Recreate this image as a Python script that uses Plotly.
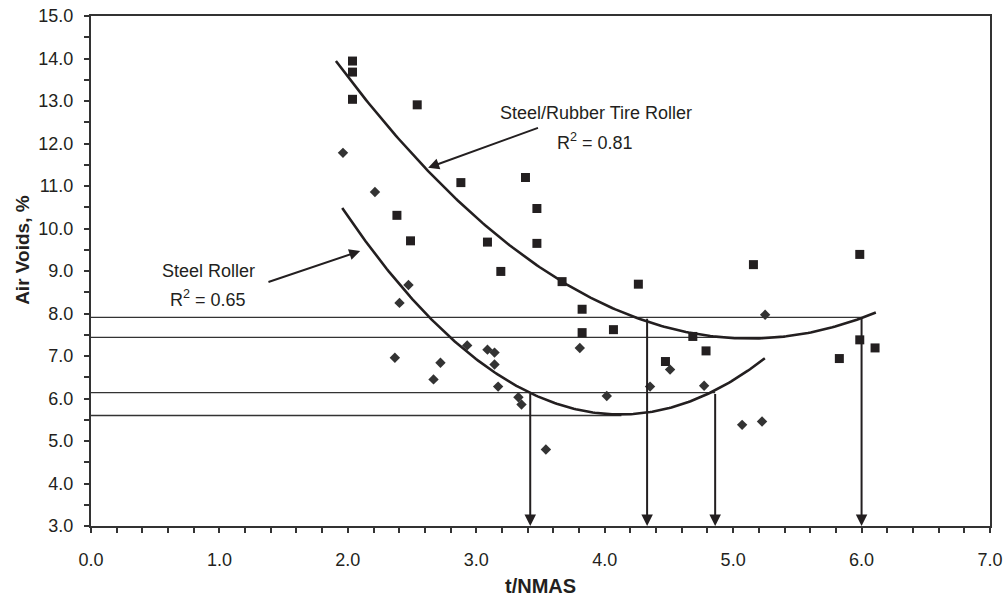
import numpy as np
import plotly.graph_objects as go

# ---- data ----
sq_x = [2.036, 2.036, 2.036, 2.540, 2.880, 3.383, 3.472, 2.382, 2.488, 3.087, 3.472, 3.191, 3.668,
        3.824, 3.824, 4.262, 5.158, 5.986, 4.068, 4.686, 4.789, 4.473, 5.986, 6.105, 5.827]
sq_y = [13.94, 13.68, 13.04, 12.91, 11.08, 11.20, 10.47, 10.31, 9.71, 9.68, 9.65, 8.99, 8.75,
        8.10, 7.55, 8.69, 9.15, 9.39, 7.62, 7.46, 7.12, 6.87, 7.38, 7.19, 6.94]

dm_x = [1.962, 2.211, 2.472, 2.402, 2.366, 2.721, 2.667, 2.929, 3.087, 3.142, 3.142, 3.170,
        3.328, 3.352, 3.542, 3.806, 5.249, 4.509, 4.353, 4.774, 4.016, 5.070, 5.225]
dm_y = [11.78, 10.86, 8.67, 8.25, 6.96, 6.84, 6.45, 7.25, 7.15, 7.08, 6.80, 6.28,
        6.03, 5.86, 4.80, 7.19, 7.97, 6.68, 6.28, 6.30, 6.06, 5.38, 5.46]

# 2nd-order trendline coefficients (a, b, c) as drawn in the reference, and their extents
sq_trend_coef = [0.630, -6.459, 23.966]
dm_trend_coef = [1.039, -8.559, 23.250]
sq_trend_range = [1.907, 6.111]
dm_trend_range = [1.956, 5.247]

# reference lines
hline_y = [7.91, 7.44, 6.14, 5.60]
hline_end = [6.00, 5.40, 4.86, 4.13]
arrow_x = [3.42, 4.33, 4.86, 6.00]
arrow_top = [6.14, 7.91, 6.14, 7.91]

x_ticks = [0.0, 1.0, 2.0, 3.0, 4.0, 5.0, 6.0, 7.0]
y_ticks = [3.0, 4.0, 5.0, 6.0, 7.0, 8.0, 9.0, 10.0, 11.0, 12.0, 13.0, 14.0, 15.0]

FONT = "Liberation Sans, Arial, sans-serif"
INK = "#231f20"

fig = go.Figure()

# horizontal guide lines
for yv, xe in zip(hline_y, hline_end):
    fig.add_trace(go.Scatter(x=[0, xe], y=[yv, yv], mode="lines",
                             line=dict(color="#333333", width=1.3),
                             hoverinfo="skip", showlegend=False))

# trendlines
for coef, rng in [(sq_trend_coef, sq_trend_range), (dm_trend_coef, dm_trend_range)]:
    xx = np.linspace(rng[0], rng[1], 200)
    fig.add_trace(go.Scatter(x=xx, y=np.polyval(coef, xx), mode="lines",
                             line=dict(color=INK, width=2.6),
                             hoverinfo="skip", showlegend=False))

fig.add_trace(go.Scatter(x=sq_x, y=sq_y, mode="markers", name="Steel/Rubber Tire Roller",
                         marker=dict(symbol="square", size=9, color=INK), showlegend=False))
fig.add_trace(go.Scatter(x=dm_x, y=dm_y, mode="markers", name="Steel Roller",
                         marker=dict(symbol="diamond", size=8, color="#333333"), showlegend=False))

annotations = []
for xa, top in zip(arrow_x, arrow_top):
    annotations.append(dict(x=xa, y=3.0, ax=xa, ay=top, xref="x", yref="y", axref="x", ayref="y",
                            text="", showarrow=True, arrowhead=2, arrowsize=1.15,
                            arrowwidth=2, arrowcolor=INK, standoff=0))

# label arrows
annotations.append(dict(x=2.625, y=11.43, ax=3.492, ay=12.38, xref="x", yref="y", axref="x", ayref="y",
                        text="", showarrow=True, arrowhead=2, arrowsize=1.1, arrowwidth=2,
                        arrowcolor=INK, standoff=0))
annotations.append(dict(x=2.096, y=9.47, ax=1.370, ay=8.73, xref="x", yref="y", axref="x", ayref="y",
                        text="", showarrow=True, arrowhead=2, arrowsize=1.1, arrowwidth=2,
                        arrowcolor=INK, standoff=0))

txtfont = dict(family=FONT, size=18, color=INK)
for tx, ty, t in [(3.933, 12.707, "Steel/Rubber Tire Roller"),
                  (3.925, 12.04, "R<sup>2</sup> = 0.81"),
                  (0.915, 9.01, "Steel Roller"),
                  (0.909, 8.36, "R<sup>2</sup> = 0.65")]:
    annotations.append(dict(x=tx, y=ty, xref="x", yref="y", text=t, showarrow=False,
                            font=txtfont, xanchor="center", yanchor="middle"))

# axis titles
annotations.append(dict(x=0.5, y=-0.1184, xref="paper", yref="paper", text="<b>t/NMAS</b>",
                        showarrow=False, font=dict(family=FONT, size=20, color=INK),
                        xanchor="center", yanchor="middle"))
annotations.append(dict(x=-0.077, y=0.541, xref="paper", yref="paper", text="<b>Air Voids, %</b>",
                        textangle=-90, showarrow=False, font=dict(family=FONT, size=19, color=INK),
                        xanchor="center", yanchor="middle"))

fig.update_layout(
    width=1003, height=599,
    margin=dict(l=91, r=13, t=16, b=73, autoexpand=False),
    paper_bgcolor="white", plot_bgcolor="white",
    annotations=annotations,
    font=dict(family=FONT, size=18, color=INK),
)

axis_common = dict(showgrid=False, zeroline=False, showline=True, linewidth=2, linecolor="#333333",
                   mirror=True, ticks="outside", ticklen=5, tickwidth=1.5, tickcolor="#333333",
                   automargin=False, tickfont=dict(family=FONT, size=18, color=INK))
fig.update_xaxes(range=[0, 7], tickmode="array", tickvals=x_ticks,
                 ticktext=[f"{v:.1f}" for v in x_ticks],
                 minor=dict(dtick=0.2, tick0=0, ticks="outside", ticklen=5, tickwidth=1.5,
                            tickcolor="#333333"),
                 ticklabelstandoff=11, **axis_common)
fig.update_yaxes(range=[3, 15], tickmode="array", tickvals=y_ticks,
                 ticktext=[f"{v:.1f}" for v in y_ticks],
                 minor=dict(dtick=0.5, tick0=0, ticks="outside", ticklen=5, tickwidth=1.5,
                            tickcolor="#333333"),
                 ticklabelstandoff=7, **axis_common)

fig.write_html("out.html")
